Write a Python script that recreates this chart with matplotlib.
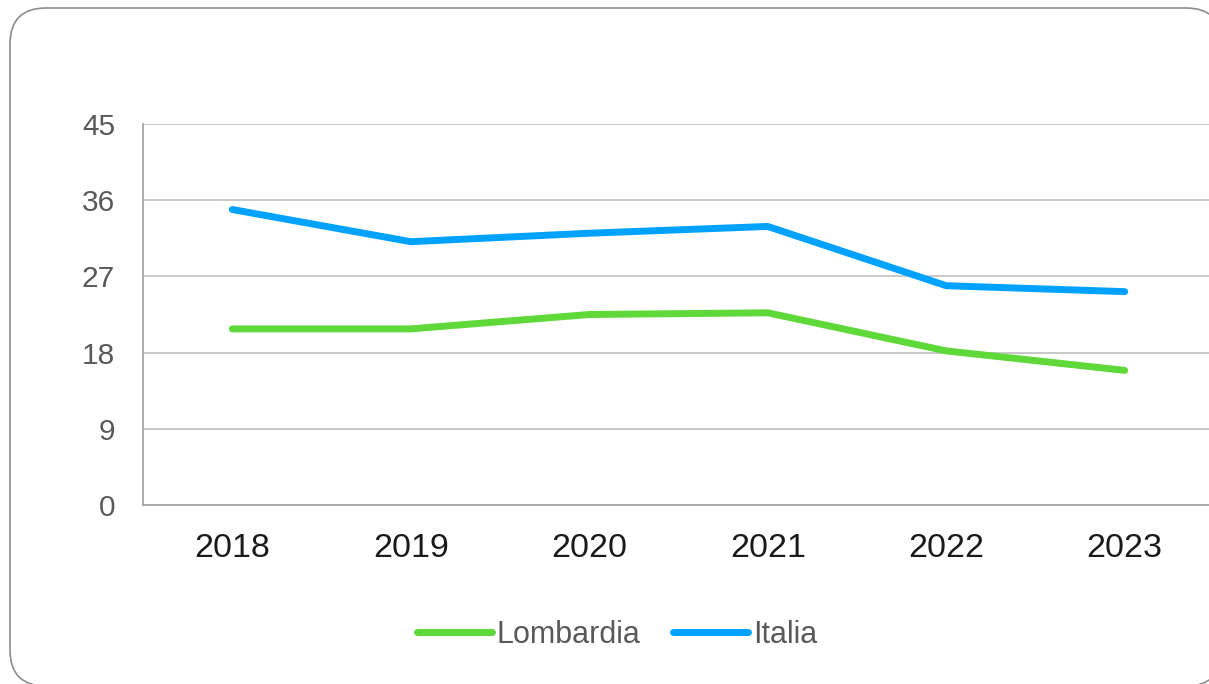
import matplotlib
matplotlib.use("Agg")
import matplotlib.pyplot as plt
from matplotlib.patches import FancyBboxPatch
import numpy as np

# === DATA ===
years = ["2018", "2019", "2020", "2021", "2022", "2023"]
lombardia = [20.8, 20.8, 22.5, 22.7, 18.2, 15.9]
italia = [34.9, 31.1, 32.1, 32.9, 25.9, 25.2]
y_ticks = [0, 9, 18, 27, 36, 45]

plt.rcParams['font.family'] = ['Liberation Sans', 'DejaVu Sans']

W, H = 1209, 684
fig = plt.figure(figsize=(W / 100, H / 100), dpi=100)

# background axes in pixel units for the rounded outer frame (runs off right/bottom)
bg = fig.add_axes([0, 0, 1, 1], zorder=0)
bg.set_xlim(0, W)
bg.set_ylim(H, 0)
bg.axis("off")
bg.add_patch(FancyBboxPatch((10, 8), 1212, 678,
                            boxstyle="round,pad=0,rounding_size=36",
                            facecolor="white", edgecolor="#8c8c8c", linewidth=1.2))

ax = fig.add_axes([143 / W, 1 - 505 / H, (1214 - 143) / W, (505 - 124) / H], zorder=1)
ax.patch.set_alpha(0)

x = np.arange(len(years))
ax.plot(x, lombardia, color="#5FD83A", lw=5, solid_capstyle="round",
        solid_joinstyle="round", label="Lombardia")
ax.plot(x, italia, color="#00A2FF", lw=5, solid_capstyle="round",
        solid_joinstyle="round", label="Italia")

ax.set_xlim(-0.5, len(years) - 0.5)
ax.set_ylim(0, 45)
ax.set_yticks(y_ticks)
ax.set_xticks(x)
ax.set_xticklabels(years)
ax.grid(axis="y", color="#c4c4c4", lw=1.3)
ax.set_axisbelow(True)

for s in ["top", "right"]:
    ax.spines[s].set_visible(False)
for s in ["left", "bottom"]:
    ax.spines[s].set_color("#a6a6a6")
    ax.spines[s].set_linewidth(1.3)

ax.tick_params(axis="y", length=0, pad=20, labelsize=21.5, labelcolor="#595959")
ax.tick_params(axis="x", length=0, pad=20, labelsize=24.5, labelcolor="#1a1a1a")

leg = ax.legend(loc="center", bbox_to_anchor=(617 / W, 1 - 635 / H),
                bbox_transform=fig.transFigure, ncol=2, frameon=False,
                fontsize=22, handlelength=2.45, handletextpad=0.16,
                columnspacing=1.08, labelcolor="#595959")

fig.savefig("out.png", dpi=100)
